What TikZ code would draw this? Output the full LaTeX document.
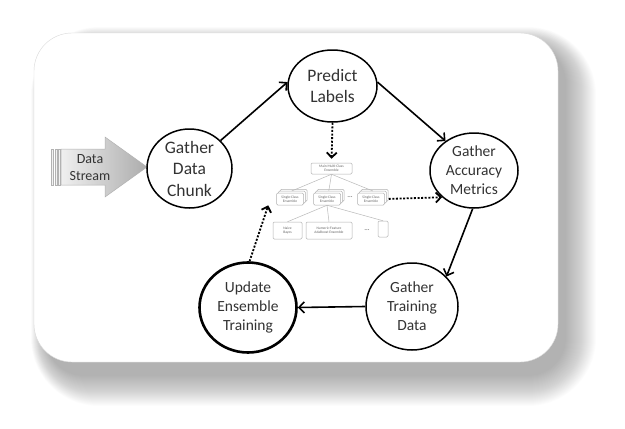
\documentclass[tikz,border=0pt]{standalone}
\usepackage{fontspec}
\setmainfont{Carlito}
\usetikzlibrary{shapes.geometric,arrows.meta,shadows}

\begin{document}
\begin{tikzpicture}[x=1pt,y=-1pt,
    stage/.style={draw,ellipse,line width=1.5pt,inner sep=-8pt,align=center,text=black!80},
    bigtext/.style={font=\fontsize{17.5}{21.5}\selectfont},
    smalltext/.style={font=\fontsize{15.5}{19}\selectfont},
    flow/.style={line width=1.6pt,-{Straight Barb[length=5.5pt,width=11pt]}},
    dots/.style={line width=1.8pt,dash pattern=on 2pt off 1.6pt,-{Straight Barb[length=5pt,width=10pt]}},
    treebox/.style={draw=gray!60,fill=white,rounded corners=1.2pt,line width=0.5pt,inner sep=0pt,align=center,text=gray!80!black,font=\fontsize{3.6}{4.2}\selectfont},
    stacked/.style={double copy shadow={shadow xshift=1.8pt,shadow yshift=1.8pt,draw=gray!60,fill=white}},
    treeline/.style={draw=gray!55,line width=0.5pt}]

    \useasboundingbox (0,0) rectangle (625,429);

    % card with its shadow
    \foreach \i [evaluate=\i as \r using 38+\i] in {0,...,30}
      \fill[black,opacity=0.013,rounded corners=\r pt] (46-0.5*\i,45-0.6*\i) rectangle (566+\i,376+\i);
    \draw[gray!30,fill=white,rounded corners=38pt] (34,33) rectangle (558,362);

    % data stream
    \foreach \x in {51,55,58.5}
      \draw[gray!60,fill=gray!10,line width=0.4pt] (\x,149) rectangle ++(2,36);
    \shade[left color=gray!12,right color=gray!65,draw=gray!60,line width=0.5pt] (61,149) -- (105,149) -- (105,137) -- (147,167) -- (105,197) -- (105,185) -- (61,185) -- cycle;
    \node[font=\fontsize{14}{17}\selectfont,align=center,text=black!80] (stream) at (90,168) {Data\\Stream};

    % the cycle
    \node[stage,bigtext,minimum width=85pt,minimum height=79pt] (chunk) at (189.5,168.5) {Gather\\Data\\Chunk};
    \node[stage,bigtext,minimum width=89pt,minimum height=72pt] (predict) at (332.5,86) {Predict\\Labels};
    \node[stage,smalltext,minimum width=88pt,minimum height=75pt] (accuracy) at (474,170.5) {Gather\\Accuracy\\Metrics};
    \node[stage,smalltext,minimum width=92pt,minimum height=87pt] (training) at (412,306.5) {Gather\\Training\\Data};
    \node[stage,smalltext,line width=2.6pt,minimum width=97pt,minimum height=90pt] (update) at (248,307.5) {Update\\Ensemble\\Training};

    \draw[flow] (chunk.42) -- (predict.175);
    \draw[flow] (predict.5) -- (accuracy.134);
    \draw[flow] (accuracy.268) -- (training.41);
    \draw[flow] (training.west) -- (update.east);

    % ensemble tree
    \node[treebox,minimum width=41pt,minimum height=11pt] (main) at (331.5,168.5) {Main Multi-Class\\Ensemble};
    \node[treebox,stacked,minimum width=27pt,minimum height=12pt] (single1) at (290,199) {Single-Class\\Ensemble};
    \node[treebox,stacked,minimum width=27pt,minimum height=12pt] (single2) at (327,199) {Single-Class\\Ensemble};
    \node[treebox,stacked,minimum width=27pt,minimum height=12pt] (single3) at (371,199) {Single-Class\\Ensemble};
    \node[text=black!70,font=\fontsize{7}{8}\selectfont] (gap1) at (350,197) {\ldots};

    \node[treebox,minimum width=29pt,minimum height=17pt] (naive) at (287.5,230.5) {Naive\\Bayes};
    \node[treebox,minimum width=46pt,minimum height=17pt] (numeric) at (329,230.5) {Numeric-Feature\\AdaBoost Ensemble};
    \node[text=black!70,font=\fontsize{7}{8}\selectfont] (gap2) at (367,230) {\ldots};
    \node[treebox,minimum width=10pt,minimum height=16pt] (empty) at (383,229) {};

    \foreach \s in {single1,single2,single3}
      \draw[treeline] (main.south) -- ([shift={(1.8pt,1.8pt)}]\s.north);
    \foreach \b in {naive,numeric,empty}
      \draw[treeline] (single2.south) -- (\b.north);

    \draw[dots,shorten >=4pt] (predict.south) -- (main.north);
    \draw[dots,shorten <=4pt] (single3.east) -- (accuracy.220);
    \draw[dots] (update.88) -- ([xshift=-8pt]single1.south west);

\end{tikzpicture}
\end{document}
